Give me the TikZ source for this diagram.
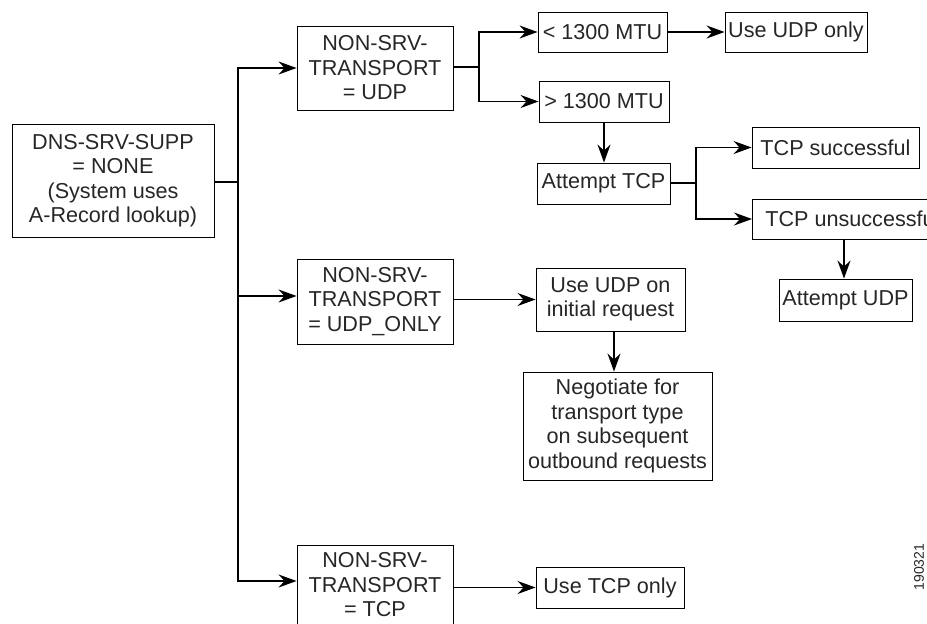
\documentclass[tikz,border=0pt]{standalone}
\usepackage{fontspec}
\setmainfont{Liberation Sans}
\usetikzlibrary{arrows.meta}
\begin{document}
\begin{tikzpicture}[x=1pt,y=-1pt,
  box/.style={draw,line width=0.9pt,inner sep=0pt,align=center,text=black!85,
    font=\fontsize{21.6}{24.5}\selectfont},
  arr/.style={line width=1.2pt,-{Stealth[length=18pt,width=13pt,inset=6pt]}},
  ln/.style={line width=1.2pt}]
\useasboundingbox (0,0) rectangle (927,624);
\clip (0,0) rectangle (927,624);
% nodes
\node[box,minimum width=202pt,minimum height=113pt] (dns) at (113,180.5)
  {DNS-SRV-SUPP\\= NONE\\(System uses\\A-Record lookup)};
\node[box,minimum width=156pt,minimum height=84pt] (udp) at (375,68)
  {NON-SRV-\\TRANSPORT\\= UDP};
\node[box,minimum width=156pt,minimum height=85pt] (uonly) at (375,301.5)
  {NON-SRV-\\TRANSPORT\\= UDP\_ONLY};
\node[box,minimum width=156pt,minimum height=80pt] (tcp) at (375,585)
  {NON-SRV-\\TRANSPORT\\= TCP};
\node[box,minimum width=129pt,minimum height=40pt] (lt) at (602.5,32) {< 1300 MTU};
\node[box,minimum width=130pt,minimum height=41pt] (gt) at (604,101.5) {> 1300 MTU};
\node[box,minimum width=142pt,minimum height=40pt] (udponly) at (796,32) {Use UDP only};
\node[box,minimum width=133pt,minimum height=41pt] (atcp) at (603.5,183.5) {Attempt TCP};
\node[box,minimum width=167pt,minimum height=41pt] (tsucc) at (835.5,147.5) {TCP successful};
\node[box,anchor=west,minimum width=200pt,minimum height=40pt] (tuns) at (752,219) {TCP unsuccessful};
\node[box,minimum width=133pt,minimum height=42pt] (audp) at (845.5,300) {Attempt UDP};
\node[box,minimum width=149pt,minimum height=63pt] (uinit) at (610.5,299.5)
  {Use UDP on\\initial request};
\node[box,minimum width=189pt,minimum height=108pt] (neg) at (617.5,426)
  {Negotiate for\\transport type\\on subsequent\\outbound requests};
\node[box,minimum width=148pt,minimum height=41pt] (utcp) at (610,587.5) {Use TCP only};
\node[rotate=90,text=black!85,font=\fontsize{14}{16}\selectfont] (id) at (919,567) {190321};
% junctions
\coordinate (j1) at (238,182);
\coordinate (j2) at (479,67);
\coordinate (j3) at (696,183);
\coordinate (j4) at ([xshift=-1.5pt]audp.north);
% connectors
\draw[ln] (dns.east |- j1) -- (j1);
\draw[arr] (j1) |- (udp.west);
\draw[arr] (j1) |- ([yshift=5.5pt]uonly.west);
\draw[arr] (j1) |- ([yshift=4pt]tcp.west);
\draw[ln] (udp.east |- j2) -- (j2);
\draw[arr] (j2) |- (lt.west);
\draw[arr] (j2) |- (gt.west);
\draw[arr] (lt.east) -- (udponly.west);
\draw[arr] (gt.south) -- (gt.south |- atcp.north);
\draw[ln] (atcp.east |- j3) -- (j3);
\draw[arr] (j3) |- (tsucc.west);
\draw[arr] (j3) |- (tuns.west);
\draw[arr] (tuns.south -| j4) -- (j4);
\draw[arr] (uonly.east |- uinit.west) -- (uinit.west);
\draw[arr] ([xshift=3.5pt]uinit.south) -- ([xshift=-3.5pt]neg.north);
\draw[arr] (tcp.east |- utcp.west) -- (utcp.west);
\end{tikzpicture}
\end{document}
